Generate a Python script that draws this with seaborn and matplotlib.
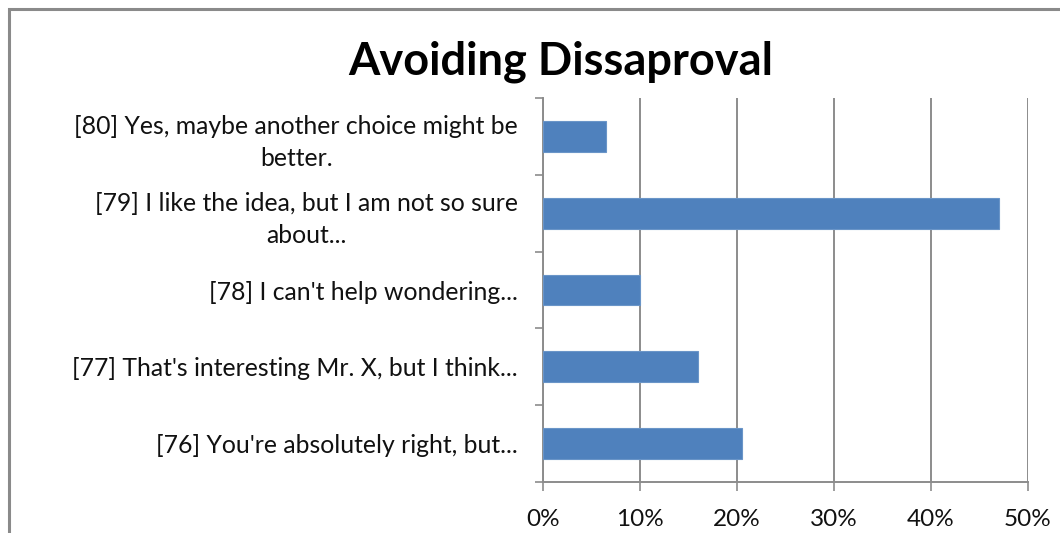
import matplotlib
matplotlib.use("Agg")
import matplotlib.pyplot as plt
from matplotlib.patches import Rectangle
from matplotlib.ticker import FixedLocator, FuncFormatter
import seaborn as sns
import pandas as pd

# Survey responses (percent of respondents), listed top to bottom
categories = [
    "[80] Yes, maybe another choice might be\nbetter.",
    "[79] I like the idea, but I am not so sure\nabout...",
    "[78] I can't help wondering...",
    "[77] That's interesting Mr. X, but I think...",
    "[76] You're absolutely right, but...",
]
percentages = [6.5, 47.0, 10.0, 16.0, 20.5]
x_ticks = [0, 10, 20, 30, 40, 50]
title = "Avoiding Dissaproval"

df = pd.DataFrame({"response": categories, "pct": percentages})

sns.set_theme(style="white")
plt.rcParams["font.family"] = ["Lato", "DejaVu Sans"]

W, H = 1060, 533
fig = plt.figure(figsize=(W / 100, H / 100), dpi=100)
ax = fig.add_axes([543 / W, 1 - 482 / H, (1028 - 543) / W, (482 - 98) / H])

sns.barplot(data=df, x="pct", y="response", orient="h", width=0.4,
            color="#4F81BD", saturation=1, edgecolor="#6A95C8", linewidth=0.8,
            ax=ax, zorder=3)

ax.set_xlim(0, 50)
ax.set_ylim(len(categories) - 0.5, -0.5)
ax.set_xlabel("")
ax.set_ylabel("")

ax.xaxis.set_major_locator(FixedLocator(x_ticks))
ax.xaxis.set_major_formatter(FuncFormatter(lambda v, p: f"{v:.0f}%"))
ax.grid(axis="x", color="#8C8C8C", linewidth=1.4, zorder=0)
ax.grid(axis="y", visible=False)
ax.set_axisbelow(True)

for side in ("top", "right"):
    ax.spines[side].set_visible(False)
for side in ("left", "bottom"):
    ax.spines[side].set_color("#8C8C8C")
    ax.spines[side].set_linewidth(1.4)

ax.tick_params(axis="x", which="major", direction="out", length=6.5, width=1.2,
               color="#8C8C8C", pad=13, labelsize=17.5, labelcolor="#111111",
               bottom=True)
ax.yaxis.set_minor_locator(FixedLocator([i - 0.5 for i in range(len(categories) + 1)]))
ax.tick_params(axis="y", which="minor", direction="out", length=5.5, width=1.2,
               color="#8C8C8C", left=True)
ax.tick_params(axis="y", which="major", length=0, pad=18, labelsize=17.8,
               labelcolor="#111111")
for lbl in ax.get_yticklabels():
    lbl.set_multialignment("center")
    lbl.set_linespacing(1.45)

fig.text(561 / W, 1 - 62 / H, title, ha="center", va="center",
         fontsize=32.5, fontweight="bold", color="black")

# Outer chart frame (extends past the right and bottom edges)
fig.patches.append(Rectangle((8.5 / W, -0.1), 1.2, 1 - 8.5 / H + 0.1,
                             transform=fig.transFigure, fill=False,
                             edgecolor="#8A8A8A", linewidth=2.2))

fig.savefig("out.png", dpi=100, facecolor="white")
